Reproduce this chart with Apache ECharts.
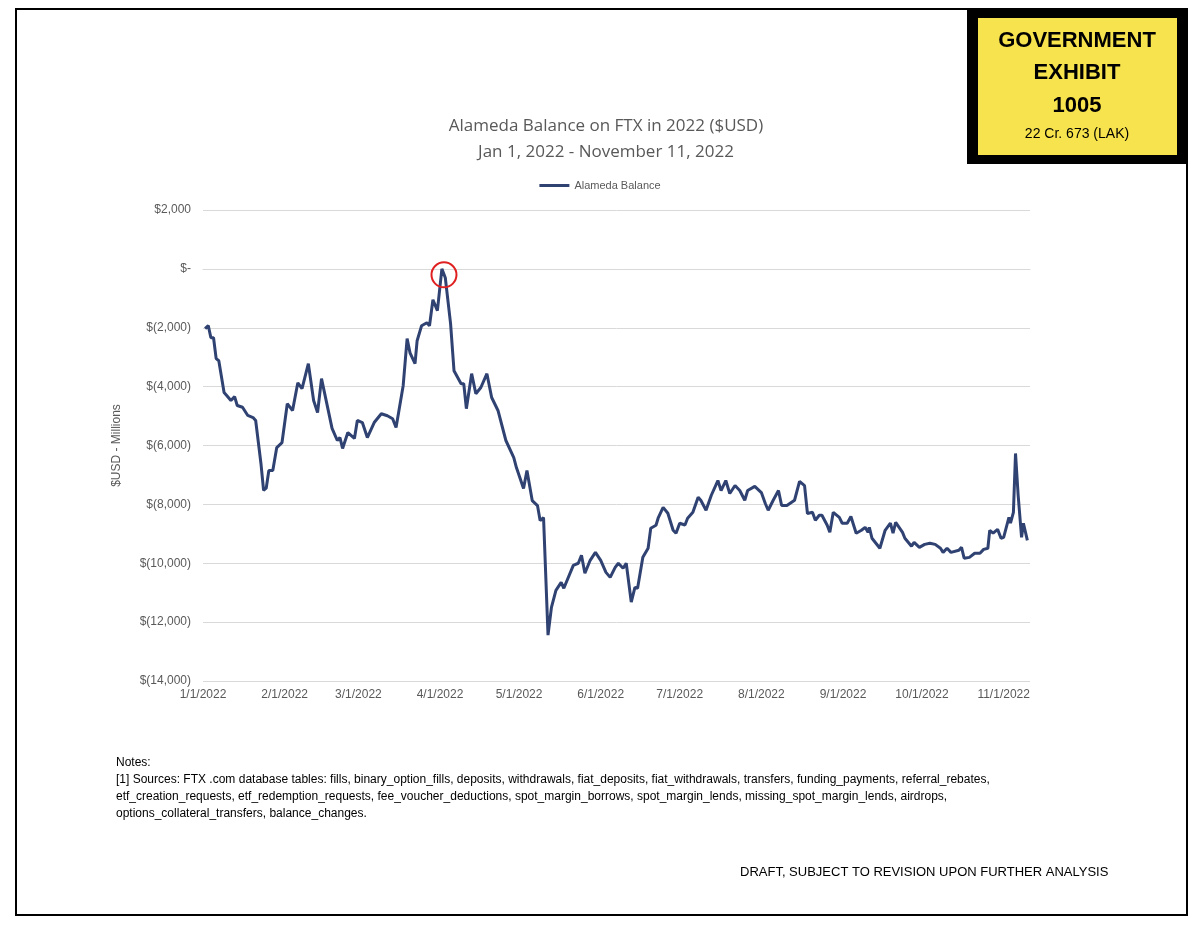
<!DOCTYPE html>
<html><head><meta charset="utf-8">
<script src="https://cdn.jsdelivr.net/npm/echarts@6/dist/echarts.min.js"></script>
<style>html,body{margin:0;padding:0;background:#fff}#c{width:1200px;height:931px}</style>
</head><body><div id="c"></div>
<script>
const dayOffsets = [0.8,2,3,4,5,6,8,9,10.6,12,13,15,17,19,20,22,23,24,25,26.5,28,30,32,34,36,37.6,40,42,43.5,45,49,51,52,53,55,57.5,58.6,60.5,62.4,65,67.7,70,72,73.3,76,77.5,78.6,80.5,81.3,83,85,86,87.3,89,90.7,92,94,95.3,98,99,100,102,103.6,105.5,107.8,109.6,112,115,118,119,121.7,123,125,127,128,129.3,131,132.3,134,136,137,140.6,142.5,143.7,145,147,149,151,153,154.6,156.5,157.7,159.5,160.7,162.6,164,165,167,169,170,172,172.8,174.7,176.5,178.5,179.6,181,183,184,186,188,189,191,193,195.5,196.7,198.5,200,202,203.8,205.7,206.8,209.5,212,213.5,214.6,216.5,218.5,219.7,221.7,224.6,226.5,228.4,229.5,231.4,232.5,234,235,237,238,239.3,241.6,242.7,244.6,246,248,250,251.4,252.5,253,254,257,259,261,262,263,265.6,266.5,269,270,272,274,276,278,280,281,282.5,284,287,288,289,291,293,295,296.4,298,298.7,300,301.7,303,304,306,306.6,307.7,308.5,309.5,310.8,311.5,313];
const balances = [-2030,-1930,-2340,-2340,-3050,-3120,-4200,-4300,-4470,-4340,-4640,-4700,-4980,-5050,-5150,-6610,-7520,-7450,-6850,-6850,-6070,-5900,-4580,-4810,-3870,-4070,-3220,-4470,-4880,-3730,-5420,-5830,-5730,-6100,-5560,-5760,-5150,-5220,-5730,-5220,-4920,-4990,-5090,-5390,-3970,-2370,-2850,-3220,-2440,-1930,-1830,-1930,-1050,-1420,0,-300,-1860,-3460,-3900,-3900,-4750,-3560,-4240,-4030,-3560,-4370,-4810,-5830,-6410,-6750,-7460,-6850,-7870,-8040,-8550,-8450,-12440,-11500,-10920,-10650,-10850,-10070,-10000,-9730,-10340,-9900,-9630,-9900,-10310,-10480,-10140,-10000,-10170,-10000,-11320,-10820,-10850,-9800,-9490,-8810,-8710,-8470,-8100,-8300,-8880,-8980,-8640,-8700,-8470,-8270,-7760,-7860,-8200,-7690,-7190,-7530,-7190,-7630,-7360,-7530,-7860,-7530,-7390,-7600,-7970,-8200,-7860,-7530,-8040,-8040,-7860,-7220,-7360,-8310,-8270,-8540,-8370,-8370,-8710,-8950,-8270,-8440,-8640,-8640,-8410,-8980,-8880,-8780,-8950,-8780,-9150,-9490,-8880,-8640,-8980,-8610,-8950,-9150,-9420,-9290,-9460,-9360,-9320,-9360,-9490,-9630,-9490,-9630,-9560,-9460,-9830,-9800,-9660,-9660,-9530,-9490,-8880,-8980,-8850,-9150,-9120,-8440,-8640,-8270,-6270,-7690,-9120,-8640,-9220];
const monthStarts = [0,31,59,90,120,151,181,212,243,273,304];
const monthLabels = ['1/1/2022','2/1/2022','3/1/2022','4/1/2022','5/1/2022','6/1/2022','7/1/2022','8/1/2022','9/1/2022','10/1/2022','11/1/2022'];
const yTicks = [2000,0,-2000,-4000,-6000,-8000,-10000,-12000,-14000];
const peakMark = [91.5,-200];
const noteLines = ['Notes:','[1] Sources: FTX .com database tables: fills, binary_option_fills, deposits, withdrawals, fiat_deposits, fiat_withdrawals, transfers, funding_payments, referral_rebates,','etf_creation_requests, etf_redemption_requests, fee_voucher_deductions, spot_margin_borrows, spot_margin_lends, missing_spot_margin_lends, airdrops,','options_collateral_transfers, balance_changes.'];

const F = 'Liberation Sans, Open Sans, sans-serif';
function fmtY(v){ if(v===0) return '$-'; const s='$'+Math.abs(v).toLocaleString('en-US'); return v<0?'$('+Math.abs(v).toLocaleString('en-US')+')':s; }
const chart = echarts.init(document.getElementById('c'));
chart.setOption({
  animation:false,
  backgroundColor:'#fff',
  title:{text:'Alameda Balance on FTX in 2022 ($USD)\nJan 1, 2022 - November 11, 2022',left:601,textAlign:'center',top:108,
    textStyle:{fontFamily:'Open Sans, sans-serif',fontSize:17,fontWeight:'normal',color:'#595959',lineHeight:26}},
  legend:{top:175,left:'center',itemWidth:30,itemHeight:3,icon:'rect',data:['Alameda Balance'],
    textStyle:{fontFamily:F,fontSize:11,color:'#595959'}},
  grid:{left:203,right:170,top:210,bottom:250},
  xAxis:{type:'value',min:0,max:314,
    axisLine:{show:true,lineStyle:{color:'#d9d9d9'}},axisTick:{show:false},splitLine:{show:false},
    axisLabel:{customValues:monthStarts,color:'#595959',fontFamily:F,fontSize:12,margin:8,
      formatter:v=>monthLabels[monthStarts.indexOf(v)]||''}},
  yAxis:{type:'value',min:-14000,max:2000,interval:2000,
    name:'$USD - Millions',nameLocation:'middle',nameGap:80,nameTextStyle:{color:'#595959',fontFamily:F,fontSize:12},
    axisLine:{show:false},axisTick:{show:false},
    splitLine:{lineStyle:{color:'#d9d9d9'}},
    axisLabel:{color:'#595959',fontFamily:F,fontSize:12,margin:12,formatter:fmtY}},
  series:[{name:'Alameda Balance',type:'line',showSymbol:false,symbol:'none',
    data:dayOffsets.map((d,i)=>[d,balances[i]]),
    lineStyle:{color:'#2f4272',width:3},itemStyle:{color:'#2f4272'},
    markPoint:{silent:true,symbol:'circle',symbolSize:25,label:{show:false},
      itemStyle:{color:'rgba(0,0,0,0)',borderColor:'#e02020',borderWidth:2},
      data:[{coord:peakMark}]}}],
  graphic:[
    {type:'rect',shape:{x:16,y:9,width:1171,height:906},style:{fill:'none',stroke:'#000',lineWidth:2}},
    {type:'rect',shape:{x:967,y:10,width:221,height:154},style:{fill:'#000'}},
    {type:'rect',shape:{x:978,y:18,width:199,height:137},style:{fill:'#f7e34d'}},
    {type:'text',x:1077,y:30,style:{text:'GOVERNMENT',fill:'#000',font:'bold 22px '+F,textAlign:'center'}},
    {type:'text',x:1077,y:62,style:{text:'EXHIBIT',fill:'#000',font:'bold 22px '+F,textAlign:'center'}},
    {type:'text',x:1077,y:95,style:{text:'1005',fill:'#000',font:'bold 22px '+F,textAlign:'center'}},
    {type:'text',x:1077,y:127,style:{text:'22 Cr. 673 (LAK)',fill:'#000',font:'14px '+F,textAlign:'center'}},
    {type:'text',x:116,y:754,style:{text:noteLines.join('\n'),fill:'#000',font:'12px '+F,lineHeight:17}},
    {type:'text',x:740,y:866,style:{text:'DRAFT, SUBJECT TO REVISION UPON FURTHER ANALYSIS',fill:'#000',font:'13px '+F}}
  ]
});
</script></body></html>
